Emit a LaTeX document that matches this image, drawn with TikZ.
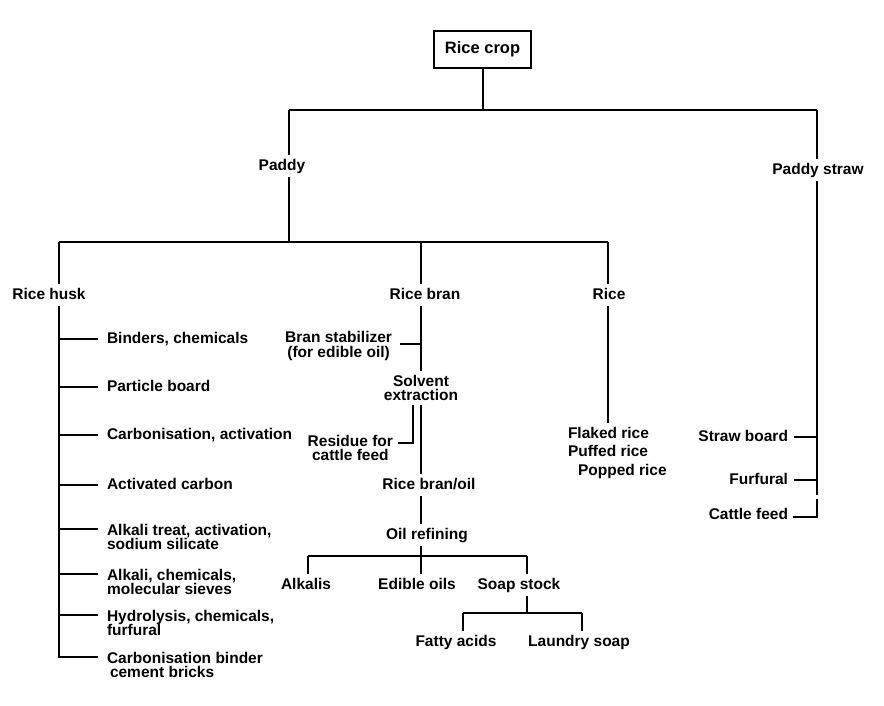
\documentclass[tikz,border=0pt]{standalone}
\usepackage{fontspec}
\setmainfont{Liberation Sans}
\usetikzlibrary{calc}
\begin{document}
\begin{tikzpicture}[x=1pt,y=-1pt,line width=1.7pt,
  lbl/.style={font=\fontsize{15.5}{14.5}\selectfont\bfseries,inner sep=0pt,outer sep=4pt,text height=11pt,text depth=3pt},
  mlbl/.style={font=\fontsize{15.5}{14.5}\selectfont\bfseries,inner sep=0pt,outer sep=4pt},
  topbox/.style={draw,line width=1.9pt,minimum width=97pt,minimum height=37pt,inner sep=0pt,font=\fontsize{16.5}{18}\selectfont\bfseries}]
\useasboundingbox (0,0) rectangle (884,705);

% ---- nodes ----
\node[topbox] (crop) at (482.5,49.5) {Rice crop};
\node[lbl] (paddy) at (282,166) {Paddy};
\node[lbl] (straw) at (818,170) {Paddy straw};

\node[lbl] (husk) at (49,295) {Rice husk};
\node[lbl] (bran) at (425,295) {Rice bran};
\node[lbl] (rice) at (609,295) {Rice};

\node[lbl,anchor=west] (h1) at (103,339) {Binders, chemicals};
\node[lbl,anchor=west] (h2) at (103,387) {Particle board};
\node[lbl,anchor=west] (h3) at (103,435) {Carbonisation, activation};
\node[lbl,anchor=west] (h4) at (103,485) {Activated carbon};
\node[mlbl,anchor=west,align=left] (h5) at (103,537) {Alkali treat, activation,\\sodium silicate};
\node[mlbl,anchor=west,align=left] (h6) at (103,582) {Alkali, chemicals,\\molecular sieves};
\node[mlbl,anchor=west,align=left] (h7) at (103,623) {Hydrolysis, chemicals,\\furfural};
\node[mlbl,anchor=west,align=left] (h8) at (103,665) {Carbonisation binder\\\hspace{3pt}cement bricks};

\node[mlbl,anchor=east,align=center] (stab) at (396,346) {Bran stabilizer\\(for edible oil)};
\node[mlbl,align=center] (solv) at (421,388) {Solvent\\extraction};
\node[mlbl,anchor=east,align=center] (res) at (397,448) {Residue for\\cattle feed};
\node[lbl] (oil) at (429,485) {Rice bran/oil};
\node[lbl] (ref) at (427,535) {Oil refining};
\node[lbl] (alk) at (306,585) {Alkalis};
\node[lbl] (edib) at (417,585) {Edible oils};
\node[lbl] (soap) at (519,585) {Soap stock};
\node[lbl] (fatty) at (456,642) {Fatty acids};
\node[lbl] (laund) at (579,642) {Laundry soap};

\node[mlbl,anchor=north west,align=left,font=\fontsize{15.5}{18.5}\selectfont\bfseries] (prod) at (564,423) {Flaked rice\\Puffed rice\\\hspace{10pt}Popped rice};

\node[lbl,anchor=east] (sb) at (792,437) {Straw board};
\node[lbl,anchor=east] (fur) at (792,480) {Furfural};
\node[lbl,anchor=east] (cf) at (792,515) {Cattle feed};

% ---- junction coordinates ----
\coordinate (tj) at (483,110);
\coordinate (tl) at (289,110);
\coordinate (sx) at (817,110);
\coordinate (hx) at (59,242);
\coordinate (pj) at (289,242);
\coordinate (bx) at (421,242);
\coordinate (rx) at (608,242);
\coordinate (hend) at (59,657);
\coordinate (rj) at (421,556);
\coordinate (aj) at (308,556);
\coordinate (sj) at (527,556);
\coordinate (fj) at (527,613);
\coordinate (fa) at (463,613);
\coordinate (ls) at (582,613);
\coordinate (se) at (817,495);
\coordinate (cb) at (817,499);

% ---- top level ----
\draw (crop.south -| tj) -- (tj);
\draw (tl) -- (sx);
\draw (tl) -- (tl |- paddy.north);
\draw (paddy.south -| tl) -- (pj);
\draw (sx) -- (sx |- straw.north);

% ---- paddy branches ----
\draw (hx) -- (rx);
\draw (hx) -- (hx |- husk.north);
\draw (bx) -- (bx |- bran.north);
\draw (rx) -- (rx |- rice.north);

% ---- rice husk ----
\draw (hx |- husk.south) -- (hend) -- ($(h8.west)+(-5,-8)$);
\draw (hx |- h1.west) -- ($(h1.west)+(-5,0)$);
\draw (hx |- h2.west) -- ($(h2.west)+(-5,0)$);
\draw (hx |- h3.west) -- ($(h3.west)+(-5,0)$);
\draw (hx |- h4.west) -- ($(h4.west)+(-5,0)$);
\draw ($(hx |- h5.west)+(0,-8)$) -- ($(h5.west)+(-5,-8)$);
\draw ($(hx |- h6.west)+(0,-8)$) -- ($(h6.west)+(-5,-8)$);
\draw ($(hx |- h7.west)+(0,-8)$) -- ($(h7.west)+(-5,-8)$);

% ---- rice bran ----
\draw (bx |- bran.south) -- (bx |- solv.north);
\draw ($(stab.east)+(4,-2)$) -- ($(bx |- stab.east)+(0,-2)$);
\draw (bx |- solv.south) -- (bx |- oil.north);
\draw ($(res.east)+(1,-5)$) -| ($(bx |- solv.south)+(-8,0)$);
\draw (bx |- oil.south) -- (bx |- ref.north);
\draw (bx |- ref.south) -- (rj) -- (bx |- edib.north);
\draw (aj) -- (sj);
\draw (aj) -- (aj |- alk.north);
\draw (sj) -- (sj |- soap.north);
\draw (sj |- soap.south) -- (fj);
\draw (fa) -- (ls);
\draw (fa) -- (fa |- fatty.north);
\draw (ls) -- (ls |- laund.north);

% ---- rice ----
\draw (rx |- rice.south) -- (rx |- prod.north);

% ---- paddy straw ----
\draw (sx |- straw.south) -- (se);
\draw ($(sb.east)+(2,0)$) -- (sx |- sb.east);
\draw ($(fur.east)+(2,0)$) -- (sx |- fur.east);
\draw ($(cf.east)+(1,2)$) -| (cb);
\end{tikzpicture}
\end{document}
